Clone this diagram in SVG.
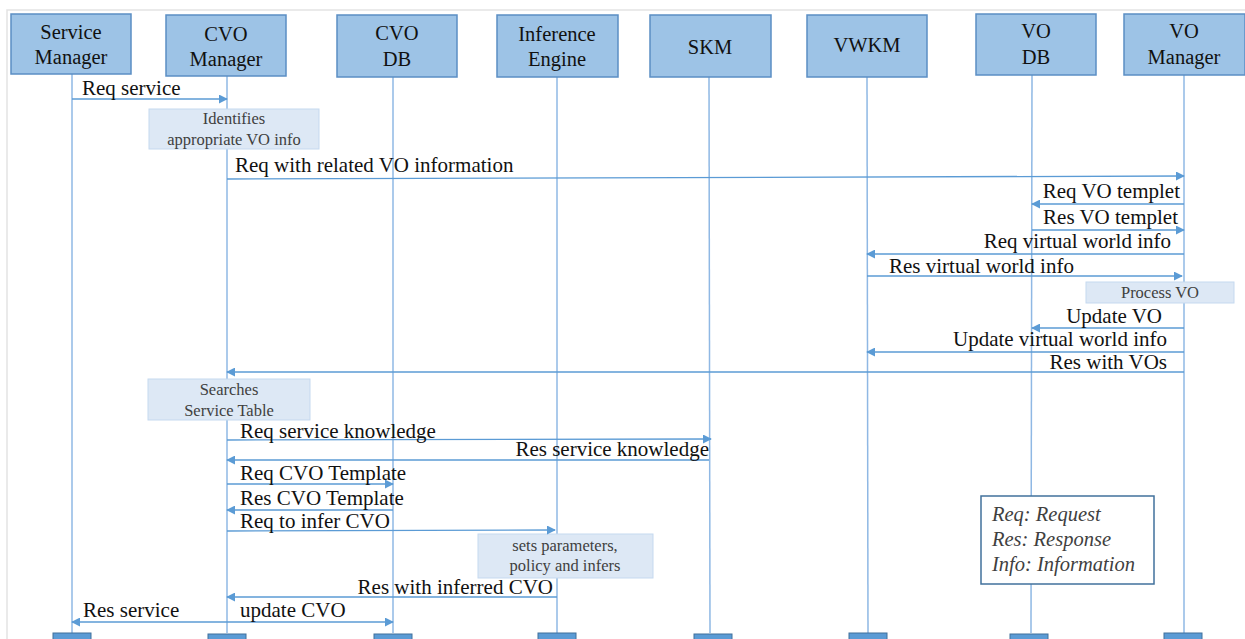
<svg xmlns="http://www.w3.org/2000/svg" width="1245" height="639" viewBox="0 0 1245 639">
  <style>
    .actor rect { fill: #9dc3e6; stroke: #5b8ec4; stroke-width: 1.5; }
    .actor text { font-family: "Liberation Serif", serif; font-size: 20.5px; fill: #111; text-anchor: middle; }
    .life { stroke: #8fb8e4; stroke-width: 1.5; }
    .foot { fill: #5b9bd5; stroke: #41719c; stroke-width: 1; }
    .msg line { stroke: #5b9bd5; stroke-width: 1.3; }
    .lbl { font-family: "Liberation Serif", serif; font-size: 21px; fill: #111; }
    .note rect { fill: #dde8f5; stroke: #c5d9ef; stroke-width: 1; }
    .note text { font-family: "Liberation Serif", serif; font-size: 16.5px; fill: #404040; text-anchor: middle; }
    .legend rect { fill: #fff; stroke: #41719c; stroke-width: 1.5; }
    .legend text { font-family: "Liberation Serif", serif; font-size: 20.5px; font-style: italic; fill: #404040; }
  </style>
  <defs>
    <marker id="arr" viewBox="0 0 10 10" refX="9" refY="5" markerWidth="9" markerHeight="9" markerUnits="userSpaceOnUse" orient="auto">
      <path d="M0,0 L10,5 L0,10 z" fill="#5b9bd5"/>
    </marker>
  </defs>

  <rect x="0" y="0" width="1245" height="639" fill="#fff"/>
  <!-- outer frame -->
  <rect x="7" y="10" width="1250" height="640" fill="none" stroke="#e3e3e3" stroke-width="1.5"/>

  <!-- lifelines -->
  <g id="lifelines">
    <line class="life" x1="72" y1="74" x2="72" y2="633"/>
    <line class="life" x1="227" y1="76" x2="227" y2="633"/>
    <line class="life" x1="393" y1="77" x2="393" y2="633"/>
    <line class="life" x1="557" y1="77" x2="557" y2="633"/>
    <line class="life" x1="709" y1="77" x2="710" y2="633"/>
    <line class="life" x1="867" y1="77" x2="868" y2="633"/>
    <line class="life" x1="1032" y1="75" x2="1031" y2="633"/>
    <line class="life" x1="1184" y1="75" x2="1184" y2="633"/>
    <rect class="foot" x="53" y="633" width="38" height="8"/>
    <rect class="foot" x="208" y="634" width="38" height="8"/>
    <rect class="foot" x="374" y="634" width="38" height="8"/>
    <rect class="foot" x="538" y="633" width="38" height="8"/>
    <rect class="foot" x="694" y="634" width="38" height="8"/>
    <rect class="foot" x="849" y="633" width="38" height="8"/>
    <rect class="foot" x="1010" y="634" width="38" height="8"/>
    <rect class="foot" x="1164" y="633" width="38" height="8"/>
  </g>

  <!-- participants -->
  <g id="service-manager" class="actor">
    <rect x="11" y="14" width="120" height="60"/>
    <text x="71" y="39">Service</text>
    <text x="71" y="64">Manager</text>
  </g>
  <g id="cvo-manager" class="actor">
    <rect x="166" y="15" width="120" height="61"/>
    <text x="226" y="41">CVO</text>
    <text x="226" y="66">Manager</text>
  </g>
  <g id="cvo-db" class="actor">
    <rect x="337" y="15" width="120" height="62"/>
    <text x="397" y="40">CVO</text>
    <text x="397" y="66">DB</text>
  </g>
  <g id="inference-engine" class="actor">
    <rect x="497" y="15" width="121" height="62"/>
    <text x="557" y="41">Inference</text>
    <text x="557" y="66">Engine</text>
  </g>
  <g id="skm" class="actor">
    <rect x="650" y="15" width="121" height="62"/>
    <text x="710" y="54">SKM</text>
  </g>
  <g id="vwkm" class="actor">
    <rect x="807" y="15" width="120" height="62"/>
    <text x="867" y="52">VWKM</text>
  </g>
  <g id="vo-db" class="actor">
    <rect x="976" y="14" width="120" height="61"/>
    <text x="1036" y="38">VO</text>
    <text x="1036" y="64">DB</text>
  </g>
  <g id="vo-manager" class="actor">
    <rect x="1124" y="14" width="121" height="61"/>
    <text x="1184" y="38">VO</text>
    <text x="1184" y="64">Manager</text>
  </g>

  <!-- activity notes -->
  <g id="note-identifies" class="note">
    <rect x="149" y="109" width="170" height="40"/>
    <text x="234" y="124">Identifies</text>
    <text x="234" y="145">appropriate VO info</text>
  </g>
  <g id="note-process-vo" class="note">
    <rect x="1086" y="282" width="148" height="21"/>
    <text x="1160" y="298">Process VO</text>
  </g>
  <g id="note-searches" class="note">
    <rect x="148" y="379" width="162" height="41"/>
    <text x="229" y="395">Searches</text>
    <text x="229" y="416">Service Table</text>
  </g>
  <g id="note-infers" class="note">
    <rect x="478" y="534" width="175" height="44"/>
    <text x="565" y="551">sets parameters,</text>
    <text x="565" y="571">policy and infers</text>
  </g>

  <!-- messages -->
  <g id="messages" class="msg">
    <line x1="72" y1="99" x2="227" y2="99" marker-end="url(#arr)"/>
    <line x1="227" y1="179" x2="1184" y2="176" marker-end="url(#arr)"/>
    <line x1="1184" y1="204" x2="1032" y2="204" marker-end="url(#arr)"/>
    <line x1="1032" y1="230" x2="1184" y2="230" marker-end="url(#arr)"/>
    <line x1="1184" y1="254" x2="867" y2="254" marker-end="url(#arr)"/>
    <line x1="867" y1="276" x2="1182" y2="276" marker-end="url(#arr)"/>
    <line x1="1184" y1="328" x2="1032" y2="328" marker-end="url(#arr)"/>
    <line x1="1184" y1="352" x2="867" y2="352" marker-end="url(#arr)"/>
    <line x1="1184" y1="372" x2="227" y2="372" marker-end="url(#arr)"/>
    <line x1="227" y1="440" x2="711" y2="439" marker-end="url(#arr)"/>
    <line x1="709" y1="460" x2="227" y2="460" marker-end="url(#arr)"/>
    <line x1="227" y1="484" x2="393" y2="484" marker-end="url(#arr)"/>
    <line x1="393" y1="510" x2="227" y2="510" marker-end="url(#arr)"/>
    <line x1="227" y1="531" x2="555" y2="530" marker-end="url(#arr)"/>
    <line x1="557" y1="597" x2="227" y2="597" marker-end="url(#arr)"/>
    <line x1="227" y1="622" x2="72" y2="622" marker-end="url(#arr)"/>
    <line x1="227" y1="622" x2="393" y2="622" marker-end="url(#arr)"/>

    <text class="lbl" x="82" y="95">Req service</text>
    <text class="lbl" x="235" y="172">Req with related VO information</text>
    <text class="lbl" x="1180" y="198" text-anchor="end">Req VO templet</text>
    <text class="lbl" x="1178" y="224" text-anchor="end">Res VO templet</text>
    <text class="lbl" x="1171" y="248" text-anchor="end">Req virtual world info</text>
    <text class="lbl" x="889" y="273">Res virtual world info</text>
    <text class="lbl" x="1162" y="323" text-anchor="end">Update VO</text>
    <text class="lbl" x="1167" y="346" text-anchor="end">Update virtual world info</text>
    <text class="lbl" x="1167" y="369" text-anchor="end">Res with VOs</text>
    <text class="lbl" x="240" y="438">Req service knowledge</text>
    <text class="lbl" x="709" y="456" text-anchor="end">Res service knowledge</text>
    <text class="lbl" x="240" y="480">Req CVO Template</text>
    <text class="lbl" x="240" y="505">Res CVO Template</text>
    <text class="lbl" x="240" y="528">Req to infer CVO</text>
    <text class="lbl" x="553" y="594" text-anchor="end">Res with inferred CVO</text>
    <text class="lbl" x="83" y="617">Res service</text>
    <text class="lbl" x="240" y="617">update CVO</text>
  </g>

  <!-- abbreviation legend -->
  <g id="legend" class="legend">
    <rect x="981" y="496" width="173" height="88"/>
    <text x="992" y="521">Req: Request</text>
    <text x="992" y="546">Res: Response</text>
    <text x="992" y="571">Info: Information</text>
  </g>
</svg>
